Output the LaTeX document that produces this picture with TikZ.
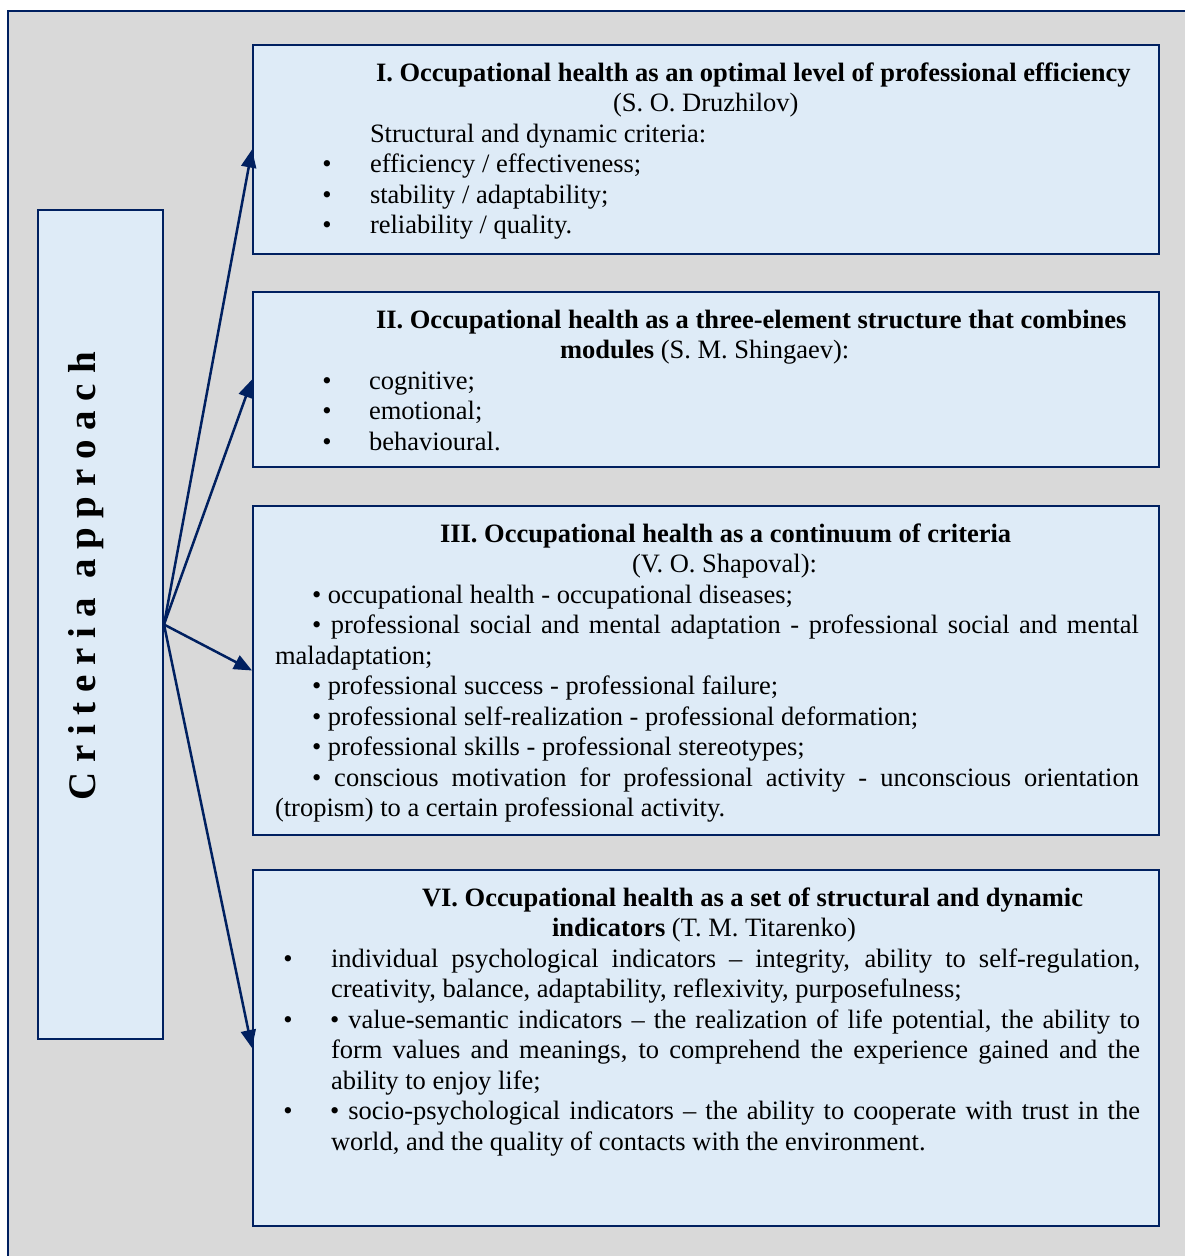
\documentclass[tikz,border=0pt]{standalone}
\usepackage{fontspec}
\setmainfont{Liberation Serif}
\usetikzlibrary{arrows.meta}
\definecolor{navy}{RGB}{0,32,96}
\definecolor{boxfill}{RGB}{222,235,247}
\definecolor{bggray}{RGB}{217,217,217}
\newcommand{\jline}[2]{\makebox[#1][s]{#2}}
\begin{document}
\begin{tikzpicture}[x=1pt,y=-1pt,
  panel/.style={draw=navy, line width=2pt, fill=boxfill, inner sep=0pt, rectangle},
  txt/.style={anchor=base west, inner sep=0pt, outer sep=0pt, font=\fontsize{26.5}{30.5}\selectfont},
  bul/.style={anchor=base, inner sep=0pt, outer sep=0pt, font=\fontsize{26.5}{30.5}\selectfont},
  link/.style={draw=navy, line width=2.5pt, -{Triangle[length=18pt,width=15pt]}}]
\useasboundingbox (0,0) rectangle (1185,1256);
\clip (0,0) rectangle (1185,1256);
\draw[draw=navy, line width=2pt, fill=bggray] (8,11) rectangle (1200,1275);

% boxes
\node[panel, minimum width=125pt, minimum height=829pt] (left) at (100.5,624.5) {};
\node[panel, minimum width=906pt, minimum height=209pt] (b1) at (706,149.5) {};
\node[panel, minimum width=906pt, minimum height=175pt] (b2) at (706,379.5) {};
\node[panel, minimum width=906pt, minimum height=329pt] (b3) at (706,670.5) {};
\node[panel, minimum width=906pt, minimum height=356pt] (b4) at (706,1048) {};

% arrows
\draw[link] (left.east) -- (b1.west);
\draw[link] (left.east) -- (b2.west);
\draw[link] (left.east) -- (b3.west);
\draw[link] (left.east) -- (b4.west);

% vertical label
\node[rotate=90, anchor=base, inner sep=0pt, font=\bfseries\fontsize{39}{46}\selectfont] (ca) at (95,576.5) {C r i t e r i a\ \ a p p r o a c h};

% Box I
\node[txt] (b1t1) at (376,81) {\textbf{I. Occupational health as an optimal level of professional efficiency}};
\node[txt] (b1t2) at (613,111.5) {(S. O. Druzhilov)};
\node[txt] (b1t3) at (370,142) {Structural and dynamic criteria:};
\node[bul] (b1u1) at (327,172.5) {•};
\node[bul] (b1u2) at (327,203) {•};
\node[bul] (b1u3) at (327,233.5) {•};
\node[txt] (b1t4) at (370,172.5) {efficiency / effectiveness;};
\node[txt] (b1t5) at (370,203) {stability / adaptability;};
\node[txt] (b1t6) at (370,233.5) {reliability / quality.};

% Box II
\node[txt] (b2t1) at (376,328) {\textbf{II. Occupational health as a three-element structure that combines}};
\node[txt] (b2t2) at (560,358.5) {\textbf{modules} (S. M. Shingaev):};
\node[bul] (b2u1) at (327,389) {•};
\node[bul] (b2u2) at (327,419.5) {•};
\node[bul] (b2u3) at (327,450) {•};
\node[txt] (b2t3) at (369,389) {cognitive;};
\node[txt] (b2t4) at (369,419.5) {emotional;};
\node[txt] (b2t5) at (369,450) {behavioural.};

% Box III
\node[txt] (b3t1) at (440,542) {\textbf{III. Occupational health as a continuum of criteria}};
\node[txt] (b3t2) at (632,572.5) {(V. O. Shapoval):};
\node[txt] (b3t3) at (312,603) {• occupational health - occupational diseases;};
\node[txt] (b3t4) at (312,633.5) {\jline{827pt}{• professional social and mental adaptation - professional social and mental}};
\node[txt] (b3t5) at (275,664) {maladaptation;};
\node[txt] (b3t6) at (312,694.5) {• professional success - professional failure;};
\node[txt] (b3t7) at (312,725) {• professional self-realization - professional deformation;};
\node[txt] (b3t8) at (312,755.5) {• professional skills - professional stereotypes;};
\node[txt] (b3t9) at (312,786) {\jline{827pt}{• conscious motivation for professional activity - unconscious orientation}};
\node[txt] (b3t10) at (275,816.5) {(tropism) to a certain professional activity.};

% Box VI
\node[txt] (b4t1) at (422,906) {\textbf{VI. Occupational health as a set of structural and dynamic}};
\node[txt] (b4t2) at (552,936.5) {\textbf{indicators} (T. M. Titarenko)};
\node[bul] (b4u1) at (288,967) {•};
\node[bul] (b4u2) at (288,1028) {•};
\node[bul] (b4u3) at (288,1119.5) {•};
\node[txt] (b4t3) at (331,967) {\jline{809pt}{individual psychological indicators – integrity, ability to self-regulation,}};
\node[txt] (b4t4) at (331,997.5) {creativity, balance, adaptability, reflexivity, purposefulness;};
\node[txt] (b4t5) at (330,1028) {\jline{810pt}{• value-semantic indicators – the realization of life potential, the ability to}};
\node[txt] (b4t6) at (331,1058.5) {\jline{809pt}{form values and meanings, to comprehend the experience gained and the}};
\node[txt] (b4t7) at (331,1089) {ability to enjoy life;};
\node[txt] (b4t8) at (330,1119.5) {\jline{810pt}{• socio-psychological indicators – the ability to cooperate with trust in the}};
\node[txt] (b4t9) at (331,1150) {world, and the quality of contacts with the environment.};
\end{tikzpicture}
\end{document}
